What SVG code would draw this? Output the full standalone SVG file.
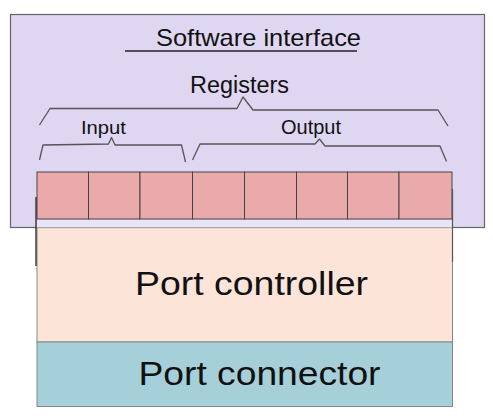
<svg xmlns="http://www.w3.org/2000/svg" width="493" height="416" viewBox="0 0 493 416">
<style>
text{font-family:"Liberation Sans",Arial,sans-serif;fill:#111}
.brace{fill:none;stroke:#555;stroke-width:1.3;stroke-linejoin:round}
.cell{fill:#eaaaab;stroke:#444;stroke-width:1}
</style>
<rect width="493" height="416" fill="#fff"/>
<g id="port-controller">
<rect x="37" y="219.5" width="415.5" height="122.5" fill="#fde4d9" stroke="#888" stroke-width="1"/>
<text x="251.5" y="295" font-size="34" text-anchor="middle" textLength="233" lengthAdjust="spacingAndGlyphs">Port controller</text>
</g>
<g id="software-interface">
<rect x="10.5" y="14.5" width="474" height="213" fill="#dcd3f1" fill-opacity="0.92" stroke="#666" stroke-width="1.2"/>
<rect x="37" y="219.5" width="415.5" height="8" fill="#e9e5f8"/>
<text x="258.5" y="46" font-size="24" text-anchor="middle" textLength="205" lengthAdjust="spacingAndGlyphs">Software interface</text>
<line x1="125" y1="51" x2="357" y2="51" stroke="#222" stroke-width="1.5"/>
</g>
<g id="registers">
<rect class="cell" x="37" y="172" width="51.5" height="47"/>
<rect class="cell" x="88.5" y="172" width="51.5" height="47"/>
<rect class="cell" x="140" y="172" width="52.5" height="47"/>
<rect class="cell" x="192.5" y="172" width="52" height="47"/>
<rect class="cell" x="244.5" y="172" width="52" height="47"/>
<rect class="cell" x="296.5" y="172" width="51" height="47"/>
<rect class="cell" x="347.5" y="172" width="51.5" height="47"/>
<rect class="cell" x="399" y="172" width="53" height="47"/>
<text x="239.5" y="93" font-size="23" text-anchor="middle" textLength="99" lengthAdjust="spacingAndGlyphs">Registers</text>
</g>
<g id="input">
<text x="103.5" y="134" font-size="19" text-anchor="middle" textLength="45" lengthAdjust="spacingAndGlyphs">Input</text>
</g>
<g id="output">
<text x="311" y="134" font-size="19.5" text-anchor="middle" textLength="60" lengthAdjust="spacingAndGlyphs">Output</text>
</g>
<g id="port-connector">
<rect x="37" y="342" width="415.5" height="64.5" fill="#a6d0d9" stroke="#888" stroke-width="1"/>
<text x="259.5" y="385" font-size="34" text-anchor="middle" textLength="242" lengthAdjust="spacingAndGlyphs">Port connector</text>
</g>
<g id="connectors">
<polyline class="brace" points="39.5,125 50,108.5 237,108.5 243,97 253,110 438,110 448,126"/>
<polyline class="brace" points="39.5,160 43,145 108.5,144 111.5,137.5 115,145 181.5,145 185.5,162"/>
<polyline class="brace" points="192.5,160 200,144 315,144 319.5,139 325,146 440,146 446.5,161.5"/>
<line x1="36" y1="197" x2="36" y2="266" stroke="#333" stroke-width="1.4"/>
<line x1="452.5" y1="189" x2="452.5" y2="262" stroke="#555" stroke-width="1.2"/>
</g>
</svg>
